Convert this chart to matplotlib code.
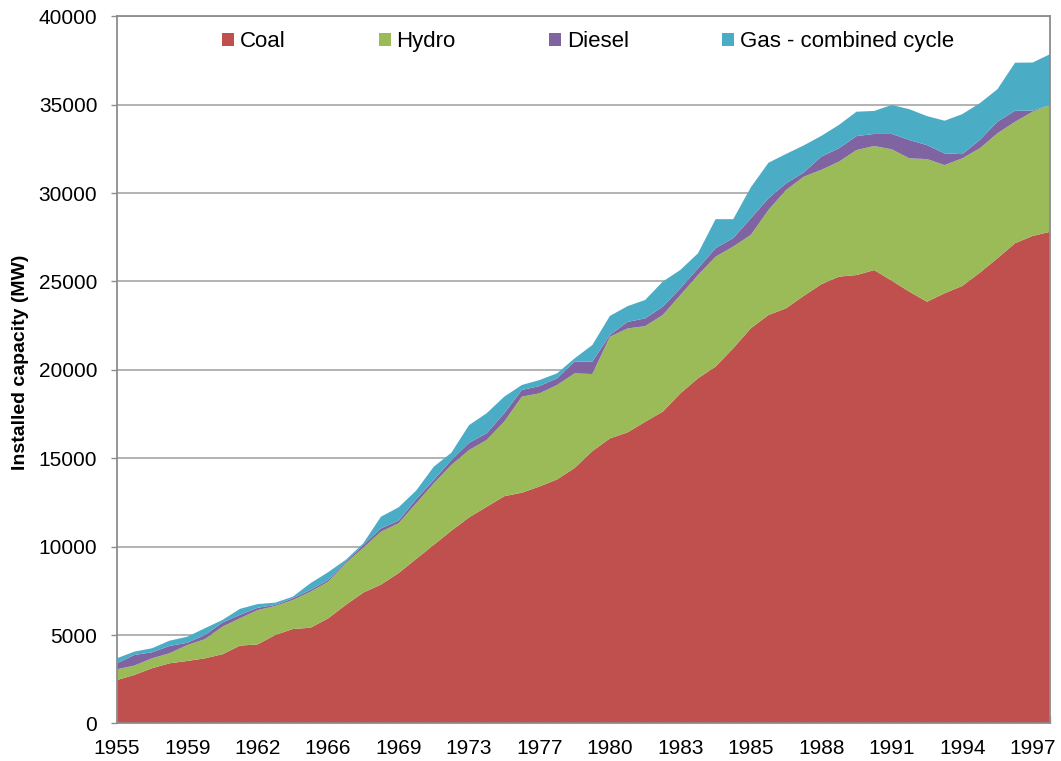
import matplotlib
matplotlib.use('Agg')
import matplotlib.pyplot as plt

plt.rcParams['font.family'] = ['Liberation Sans', 'DejaVu Sans']

# Year labels shown on the category axis (one label every 4 categories)
label_years = [1955, 1959, 1962, 1966, 1969, 1973, 1977, 1980, 1983, 1985,
               1988, 1991, 1994, 1997]
label_every = 4

# Installed capacity by source (MW), one value per category
coal = [2450, 2740, 3120, 3400, 3530, 3680, 3910, 4400, 4470, 5000,
        5340, 5410, 5940, 6700, 7400, 7850, 8500, 9300, 10100, 10900,
        11650, 12250, 12850, 13050, 13400, 13800, 14450, 15400, 16120, 16460,
        17060, 17630, 18670, 19520, 20180, 21220, 22350, 23100, 23480, 24180,
        24840, 25270, 25360, 25640, 25040, 24420, 23850, 24330, 24740, 25490,
        26310, 27160, 27570, 27810]
hydro = [610, 530, 560, 570, 900, 1080, 1560, 1550, 1940, 1640,
         1640, 2040, 2070, 2360, 2540, 2990, 2820, 3150, 3480, 3720,
         3810, 3780, 4220, 5430, 5270, 5340, 5350, 4360, 5750, 5880,
         5410, 5470, 5560, 5840, 6220, 5750, 5280, 5940, 6690, 6740,
         6470, 6500, 7070, 7020, 7430, 7540, 8070, 7250, 7220, 7040,
         7070, 6870, 7030, 7170]
diesel = [340, 600, 340, 410, 130, 240, 230, 190, 130, 60,
          100, 100, 100, 90, 150, 190, 150, 230, 190, 280,
          410, 380, 470, 380, 410, 380, 670, 700, 100, 370,
          440, 470, 380, 380, 480, 480, 940, 660, 380, 240,
          750, 760, 790, 680, 870, 1040, 790, 660, 240, 470,
          660, 620, 60, 0]
gas = [280, 190, 230, 300, 340, 380, 150, 340, 210, 130,
       90, 380, 440, 100, 100, 660, 750, 490, 750, 410,
       1000, 1130, 940, 280, 340, 280, 180, 940, 1080, 890,
       1040, 1420, 1040, 850, 1640, 1070, 1750, 2010, 1660, 1530,
       1170, 1320, 1380, 1300, 1640, 1740, 1640, 1850, 2260, 2080,
       1830, 2720, 2720, 2880]

series_names = ['Coal', 'Hydro', 'Diesel', 'Gas - combined cycle']
colors = ['#C0504D', '#9BBB59', '#8064A2', '#4BACC6']

x = list(range(len(coal)))

fig = plt.figure(figsize=(10.61, 7.61), dpi=100)
ax = fig.add_axes([0.110, 0.0494, 0.8799, 0.9293])

polys = ax.stackplot(x, coal, hydro, diesel, gas, colors=colors,
                     labels=series_names, linewidth=0, zorder=2)

ax.set_xlim(0, len(x) - 1)
ax.set_ylim(0, 40000)
ax.set_yticks(range(0, 40001, 5000))
ax.grid(axis='y', color='#A6A6A6', linewidth=1.2, zorder=1)
ax.set_axisbelow(True)

ax.set_xticks(x)
ax.set_xticklabels([str(label_years[i // label_every]) if i % label_every == 0 else ''
                    for i in x])

for side in ['left', 'bottom', 'right', 'top']:
    ax.spines[side].set_color('#8C8C8C')
    ax.spines[side].set_linewidth(1.3)
    ax.spines[side].set_zorder(3)

ax.tick_params(axis='x', direction='in', length=5, width=1, color='#9A9A9A',
               labelsize=15, pad=11)
ax.tick_params(axis='y', direction='out', length=4, width=1, color='#8C8C8C',
               labelsize=15, pad=10)

ax.set_ylabel('Installed capacity (MW)', fontsize=14, fontweight='bold')
ax.yaxis.set_label_coords(-0.094, 0.51)

fig.legend(loc='center', bbox_to_anchor=(0.554, 0.945), ncol=4, frameon=False,
           fontsize=16, handlelength=0.55, handleheight=0.55,
           handletextpad=0.25, columnspacing=4.2)

plt.savefig('out.png', dpi=100)
